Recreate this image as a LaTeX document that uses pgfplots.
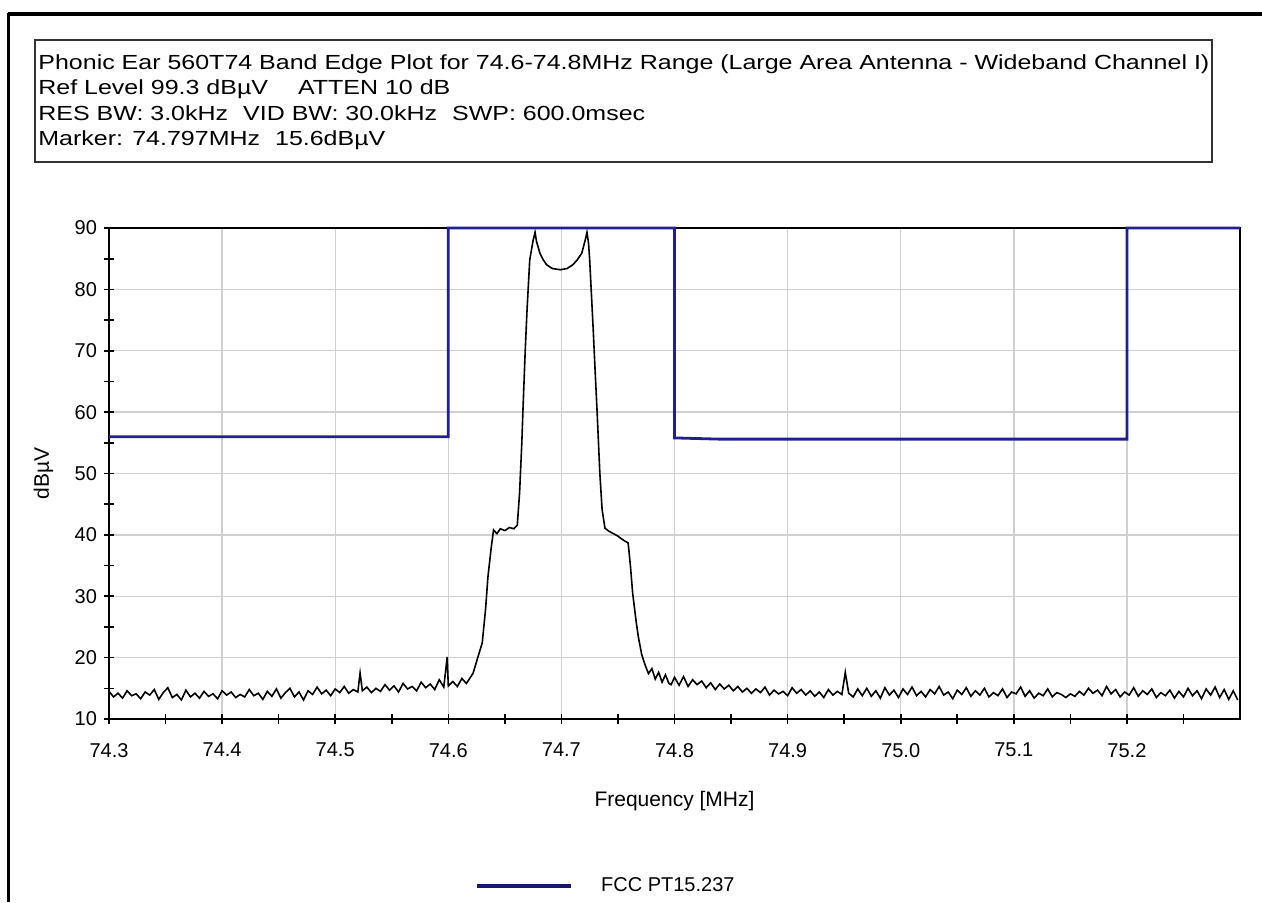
\documentclass[border=0pt]{standalone}
\usepackage{fontspec}
\setmainfont{Liberation Sans}
\usepackage{pgfplots}
\pgfplotsset{compat=1.18}
\definecolor{limitblue}{RGB}{32,32,150}
\definecolor{legendblue}{RGB}{24,24,110}
\definecolor{gridgray}{RGB}{208,208,208}

\newcommand{\hdr}[1]{\scalebox{1.225}[1]{#1}}

\begin{document}
\begin{tikzpicture}[x=0.5pt,y=0.5pt]
\useasboundingbox (0,0) rectangle (1262,902);
% outer frame
\draw[line width=2pt] (8,888) -- (1262,888);
\draw[line width=1.5pt] (8,889) -- (8,0);
% header box
\draw[black!80, line width=1.2pt] (35,862) rectangle (1212,740);
\begin{scope}[every node/.style={anchor=base west, inner sep=0pt, font=\fontsize{10.2}{12}\selectfont}]
\node at (38,833) {\hdr{Phonic Ear 560T74 Band Edge Plot for 74.6-74.8MHz Range (Large Area Antenna - Wideband Channel I)}};
\node at (38,807) {\hdr{Ref Level 99.3 dBµV\hspace{1.2em}ATTEN 10 dB}};
\node at (38,782) {\hdr{RES BW: 3.0kHz\hspace{0.6em}VID BW: 30.0kHz\hspace{0.6em}SWP: 600.0msec}};
\node at (38,757) {\hdr{Marker: 74.797MHz\hspace{0.6em}15.6dBµV}};
\end{scope}

\begin{axis}[
    at={(54.5pt,91.5pt)}, anchor=south west,
    scale only axis, width=565.5pt, height=245.5pt,
    xmin=74.3, xmax=75.3, ymin=10, ymax=90,
    xtick={74.3,74.4,74.5,74.6,74.7,74.8,74.9,75.0,75.1,75.2},
    xticklabels={74.3,74.4,74.5,74.6,74.7,74.8,74.9,75.0,75.1,75.2},
    minor xtick={74.35,74.45,74.55,74.65,74.75,74.85,74.95,75.05,75.15,75.25},
    ytick={10,20,30,40,50,60,70,80,90},
    minor ytick={15,25,35,45,55,65,75,85},
    tick pos=left, tick align=center,
    major tick length=5pt, minor tick length=5pt,
    tick style={black, line width=0.8pt},
    axis line style={line width=0.9pt},
    grid=major, major grid style={gridgray, line width=0.7pt},
    /pgf/number format/assume math mode=true,
    tick label style={font=\fontsize{10}{12}\selectfont},
    xticklabel style={yshift=-6pt},
    xlabel={Frequency [MHz]}, ylabel={dBµV},
    label style={font=\fontsize{10.5}{12}\selectfont},
    xlabel style={at={(axis description cs:0.5,-0.167)}, anchor=center},
    ylabel style={at={(axis description cs:-0.058,0.5)}, anchor=center},
    clip=false,
    legend style={draw=none, fill=none, at={(0.44,-0.34)}, anchor=center,
        font=\fontsize{10}{12}\selectfont},
    legend image code/.code={\draw[#1, legendblue, line width=2.2pt] (0pt,0pt) -- (47pt,0pt);},
]
% measured trace
\addplot[black, line width=0.8pt, forget plot] coordinates {
(74.300,14.5) (74.304,13.6) (74.308,14.2) (74.312,13.4) (74.316,14.6) (74.320,13.8)
(74.324,14.1) (74.328,13.3) (74.332,14.4) (74.336,13.9) (74.340,14.8) (74.344,13.2)
(74.348,14.3) (74.352,15.1) (74.356,13.5) (74.360,14.0) (74.364,13.1) (74.368,14.7)
(74.372,13.6) (74.376,14.2) (74.380,13.4) (74.384,14.5) (74.388,13.7) (74.392,14.1)
(74.396,13.3) (74.400,14.6) (74.404,13.9) (74.408,14.4) (74.412,13.5) (74.416,14.0)
(74.420,13.6) (74.424,14.8) (74.428,13.8) (74.432,14.2) (74.436,13.2) (74.440,14.5)
(74.444,13.7) (74.448,14.9) (74.452,13.4) (74.456,14.3) (74.460,15.0) (74.464,13.6)
(74.468,14.4) (74.472,13.1) (74.476,14.6) (74.480,14.0) (74.484,15.2) (74.488,14.1)
(74.492,14.7) (74.496,13.8) (74.500,14.9) (74.504,14.3) (74.508,15.3) (74.512,14.2)
(74.516,14.8) (74.520,14.4) (74.522,17.5) (74.524,14.6) (74.528,15.2) (74.532,14.3)
(74.536,15.0) (74.540,14.5) (74.544,15.6) (74.548,14.7) (74.552,15.4) (74.556,14.4)
(74.560,15.8) (74.564,14.9) (74.568,15.3) (74.572,14.6) (74.576,16.0) (74.580,15.1)
(74.584,15.7) (74.588,14.8) (74.592,16.4) (74.596,15.2) (74.599,20.1) (74.600,15.4)
(74.604,16.1) (74.608,15.3) (74.612,16.6) (74.616,15.8) (74.620,16.9) (74.622,17.5)
(74.626,20.0) (74.630,22.4) (74.633,28.0) (74.635,33.1) (74.638,38.0) (74.640,40.8)
(74.643,40.2) (74.646,41.0) (74.650,40.7) (74.654,41.2) (74.658,41.0) (74.661,41.6)
(74.663,46.8) (74.665,55.0) (74.666,60.3) (74.668,70.0) (74.6696,76.6) (74.672,84.8)
(74.675,88.0) (74.6767,89.3) (74.678,87.8) (74.681,85.9) (74.684,84.8) (74.687,84.0)
(74.692,83.4) (74.699,83.2) (74.705,83.4) (74.710,84.0) (74.714,84.8) (74.718,85.9)
(74.721,88.0) (74.7226,89.3) (74.724,87.5) (74.725,84.8) (74.728,73.9) (74.730,66.0)
(74.7315,60.3) (74.734,50.0) (74.736,44.1) (74.7385,41.1) (74.742,40.6) (74.746,40.2)
(74.750,39.8) (74.752,39.5) (74.756,39.0) (74.759,38.7) (74.761,35.0) (74.763,30.5)
(74.766,26.0) (74.768,23.4) (74.771,20.5) (74.774,18.8) (74.777,17.4) (74.780,18.2)
(74.783,16.5) (74.786,17.6) (74.789,16.0) (74.792,17.2) (74.795,15.8) (74.797,15.6)
(74.800,16.8) (74.804,15.5) (74.808,16.9) (74.812,15.3) (74.816,16.4) (74.820,15.6)
(74.824,16.2) (74.828,15.1) (74.832,15.9) (74.836,14.8) (74.840,15.7) (74.844,14.9)
(74.848,15.5) (74.852,14.6) (74.856,15.3) (74.860,14.4) (74.864,15.0) (74.868,14.2)
(74.872,14.9) (74.876,14.3) (74.880,15.2) (74.884,13.9) (74.888,14.7) (74.892,14.1)
(74.896,14.5) (74.900,13.8) (74.904,15.1) (74.908,14.2) (74.912,14.8) (74.916,13.9)
(74.920,14.6) (74.924,13.7) (74.928,14.4) (74.932,13.5) (74.936,14.8) (74.940,13.9)
(74.944,14.5) (74.948,14.0) (74.951,17.6) (74.954,14.2) (74.958,13.6) (74.962,14.9)
(74.966,13.8) (74.970,15.0) (74.974,13.7) (74.978,14.6) (74.982,13.4) (74.986,15.1)
(74.990,13.9) (74.994,14.7) (74.998,13.5) (75.002,14.9) (75.006,14.0) (75.010,15.2)
(75.014,13.8) (75.018,14.5) (75.022,13.6) (75.026,14.8) (75.030,14.1) (75.034,15.3)
(75.038,13.9) (75.042,14.4) (75.046,13.3) (75.050,14.7) (75.054,14.0) (75.058,15.1)
(75.062,13.7) (75.066,14.6) (75.070,13.9) (75.074,15.0) (75.078,13.6) (75.082,14.3)
(75.086,13.8) (75.090,14.9) (75.094,13.5) (75.098,14.4) (75.102,14.1) (75.106,15.2)
(75.110,13.7) (75.114,14.6) (75.118,13.4) (75.122,14.2) (75.126,13.8) (75.130,14.9)
(75.134,13.6) (75.138,14.3) (75.142,14.0) (75.146,13.5) (75.150,14.1) (75.154,13.7)
(75.158,14.5) (75.162,13.9) (75.166,15.0) (75.170,14.2) (75.174,14.7) (75.178,13.8)
(75.182,15.3) (75.186,14.1) (75.190,14.8) (75.194,13.6) (75.198,14.4) (75.202,13.9)
(75.206,15.1) (75.210,13.7) (75.214,14.6) (75.218,14.0) (75.222,14.9) (75.226,13.5)
(75.230,14.3) (75.234,13.8) (75.238,14.7) (75.242,13.4) (75.246,14.5) (75.250,13.6)
(75.254,15.0) (75.258,13.8) (75.262,14.6) (75.266,13.3) (75.270,14.9) (75.274,13.9)
(75.278,15.2) (75.282,13.5) (75.286,14.8) (75.290,13.2) (75.294,14.6) (75.298,13.1)
};
% FCC limit line
\addplot[limitblue, line width=1.4pt] coordinates {
(74.3,56) (74.6,56) (74.6,90) (74.8,90) (74.8,55.8) (74.84,55.6)
(75.2,55.6) (75.2,90) (75.3,90)
};
\addlegendentry{\hspace{12pt}FCC PT15.237}
\end{axis}
\end{tikzpicture}
\end{document}
